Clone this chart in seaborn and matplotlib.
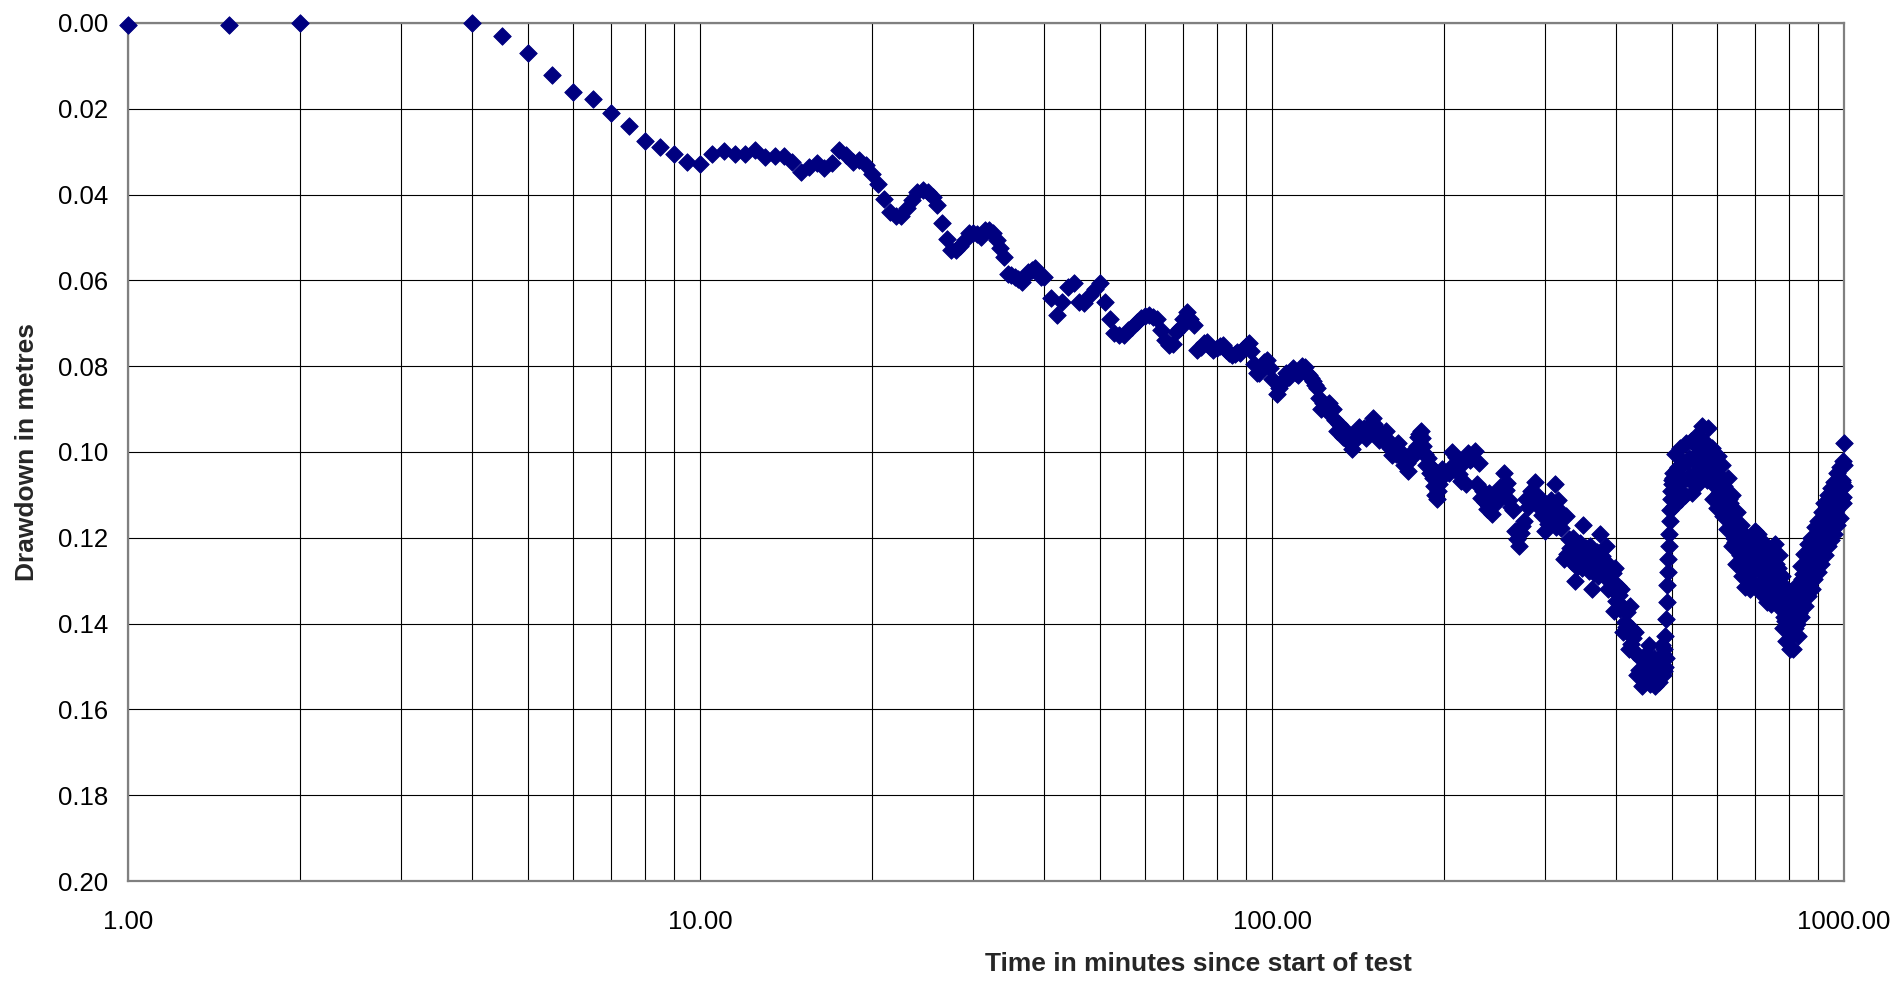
import numpy as np
import pandas as pd
import matplotlib
matplotlib.use("Agg")
import matplotlib.pyplot as plt
from matplotlib.ticker import LogLocator, FixedLocator, FuncFormatter, NullFormatter
import seaborn as sns

# time (minutes) and drawdown (metres)
t_early = [1, 1.5, 2, 4, 4.5, 5, 5.5, 6, 6.5, 7, 7.5, 8, 8.5, 9, 9.5, 10]
d_early = [0.0005, 0.0005, 0.0, 0.0, 0.0031, 0.0071, 0.0122, 0.016, 0.0177, 0.021,
           0.024, 0.0274, 0.0289, 0.0305, 0.0323, 0.0329]

# half-minute readings, 10.5 - 40 min
t_half = np.arange(10.5, 40.01, 0.5)
d_half = [0.0306, 0.0298, 0.0306, 0.0305, 0.0295, 0.0312, 0.0311, 0.0310, 0.0325, 0.0347,
          0.0336, 0.0327, 0.0339, 0.0327, 0.0296, 0.0308, 0.0323, 0.0319, 0.0331, 0.0352,
          0.0375, 0.0411, 0.0440, 0.0451, 0.0451, 0.0432, 0.0413, 0.0393, 0.0389, 0.0395,
          0.0405, 0.0424, 0.0467, 0.0504, 0.0529, 0.0529, 0.0520, 0.0505, 0.0490, 0.0490,
          0.0492, 0.0498, 0.0482, 0.0482, 0.0490, 0.0505, 0.0525, 0.0545, 0.0584, 0.0588,
          0.0591, 0.0597, 0.0603, 0.0590, 0.0580, 0.0575, 0.0572, 0.0580, 0.0591, 0.0591]

# one-minute readings, 41 - 100 min
t_min = np.arange(41, 101, 1)
d_min = [0.0640, 0.0680, 0.0650, 0.0615, 0.0605, 0.0650, 0.0653, 0.0635, 0.0620, 0.0607,
         0.0650, 0.0690, 0.0723, 0.0727, 0.0727, 0.0715, 0.0708, 0.0698, 0.0688, 0.0684,
         0.0680, 0.0685, 0.0690, 0.0715, 0.0739, 0.0750, 0.0748, 0.0720, 0.0710, 0.0690,
         0.0673, 0.0690, 0.0704, 0.0762, 0.0755, 0.0745, 0.0743, 0.0755, 0.0762, 0.0758,
         0.0752, 0.0751, 0.0762, 0.0770, 0.0774, 0.0772, 0.0768, 0.0770, 0.0760, 0.0752,
         0.0747, 0.0765, 0.0795, 0.0815, 0.0817, 0.0805, 0.0790, 0.0786, 0.0805, 0.0830]

# 102 - 200 min, even minutes
t_two = np.arange(102, 201, 2)
d_two = [0.0865, 0.0840, 0.0815, 0.0812, 0.0815, 0.0808, 0.0802, 0.0820, 0.0835, 0.0850,
         0.0900, 0.0898, 0.0885, 0.0900, 0.0950, 0.0955, 0.0948, 0.0975, 0.0992, 0.0965,
         0.0942, 0.0955, 0.0968, 0.0940, 0.0920, 0.0945, 0.0972, 0.0962, 0.0952, 0.0980,
         0.1008, 0.0995, 0.0980, 0.1005, 0.1030, 0.1025, 0.1015, 0.1010, 0.1005, 0.0965,
         0.0950, 0.0985, 0.1030, 0.1030, 0.1035, 0.1080, 0.1110, 0.1075, 0.1040, 0.1050]

# 103 - 199 min, odd minutes
t_two_odd = np.arange(103, 200, 2)
d_two_odd = [0.0850, 0.0830, 0.0825, 0.0805, 0.0820, 0.0800, 0.0815, 0.0828, 0.0845, 0.0875,
             0.0885, 0.0905, 0.0898, 0.0925, 0.0935, 0.0965, 0.0960, 0.0980, 0.0975, 0.0958,
             0.0950, 0.0945, 0.0955, 0.0935, 0.0935, 0.0958, 0.0955, 0.0975, 0.0970, 0.0990,
             0.0990, 0.1005, 0.0995, 0.1015, 0.1018, 0.1045, 0.1005, 0.0995, 0.0985, 0.0958,
             0.0968, 0.1005, 0.1015, 0.1050, 0.1060, 0.1100, 0.1090, 0.1060, 0.1055]

# 204 - 480 min, every 4 min
t_four_a = np.arange(204, 481, 4)
d_four_a = [0.1050, 0.1028, 0.1052, 0.1025, 0.1002, 0.1013, 0.1075, 0.1108, 0.1117, 0.1095,
            0.1102, 0.1098, 0.1100, 0.1088, 0.1112, 0.1135, 0.1202, 0.1188, 0.1160, 0.1128,
            0.1092, 0.1071, 0.1102, 0.1148, 0.1185, 0.1167, 0.1113, 0.1075, 0.1111, 0.1177,
            0.1250, 0.1237, 0.1223, 0.1200, 0.1233, 0.1247, 0.1270, 0.1257, 0.1243, 0.1220,
            0.1248, 0.1267, 0.1290, 0.1277, 0.1258, 0.1220, 0.1263, 0.1317, 0.1370, 0.1347,
            0.1333, 0.1320, 0.1363, 0.1407, 0.1460, 0.1447, 0.1433, 0.1420, 0.1473, 0.1517,
            0.1545, 0.1527, 0.1493, 0.1450, 0.1483, 0.1527, 0.1545, 0.1517, 0.1488, 0.1450]

# 206 - 478 min, in between
t_four_a_mid = np.arange(206, 479, 4)
d_four_a_mid = [0.1000, 0.1012, 0.1068, 0.1075, 0.1018, 0.0997, 0.1025, 0.1092, 0.1133, 0.1145,
                0.1118, 0.1082, 0.1050, 0.1072, 0.1128, 0.1185, 0.1218, 0.1172, 0.1110, 0.1112,
                0.1108, 0.1121, 0.1118, 0.1132, 0.1135, 0.1133, 0.1147, 0.1175, 0.1145, 0.1143,
                0.1150, 0.1203, 0.1257, 0.1300, 0.1267, 0.1213, 0.1170, 0.1223, 0.1277, 0.1320,
                0.1282, 0.1233, 0.1190, 0.1243, 0.1292, 0.1320, 0.1297, 0.1283, 0.1270, 0.1313,
                0.1367, 0.1420, 0.1397, 0.1373, 0.1360, 0.1413, 0.1467, 0.1520, 0.1507, 0.1483,
                0.1500, 0.1470, 0.1520, 0.1540, 0.1510, 0.1480, 0.1500, 0.1535, 0.1520]

# recovery, 481 - 503 min
t_rise = np.arange(481, 504, 1)
d_rise = [0.148, 0.152, 0.147, 0.151, 0.146, 0.150, 0.143, 0.148, 0.139, 0.135,
          0.131, 0.128, 0.125, 0.122, 0.119, 0.116, 0.1135, 0.111, 0.109, 0.1075,
          0.1065, 0.106, 0.105]

# 504 - 996 min, every 4 min
t_four_b = np.arange(504, 997, 4)
d_four_b = [0.1125, 0.1080, 0.1035, 0.0990, 0.1025, 0.1065, 0.1100, 0.1060, 0.1015, 0.0975,
            0.1015, 0.1050, 0.1080, 0.1030, 0.0985, 0.0940, 0.0975, 0.1020, 0.1065, 0.1045,
            0.1020, 0.0990, 0.1035, 0.1080, 0.1130, 0.1095, 0.1060, 0.1030, 0.1080, 0.1130,
            0.1180, 0.1150, 0.1120, 0.1100, 0.1160, 0.1210, 0.1260, 0.1230, 0.1200, 0.1170,
            0.1220, 0.1270, 0.1315, 0.1280, 0.1245, 0.1200, 0.1235, 0.1270, 0.1305, 0.1260,
            0.1225, 0.1190, 0.1235, 0.1280, 0.1330, 0.1300, 0.1265, 0.1230, 0.1275, 0.1320,
            0.1355, 0.1310, 0.1260, 0.1215, 0.1260, 0.1310, 0.1360, 0.1330, 0.1310, 0.1290,
            0.1345, 0.1395, 0.1440, 0.1400, 0.1370, 0.1340, 0.1385, 0.1425, 0.1460, 0.1410,
            0.1360, 0.1310, 0.1335, 0.1360, 0.1385, 0.1335, 0.1285, 0.1238, 0.1270, 0.1300,
            0.1335, 0.1290, 0.1245, 0.1200, 0.1230, 0.1260, 0.1295, 0.1250, 0.1205, 0.1160,
            0.1195, 0.1230, 0.1260, 0.1210, 0.1165, 0.1120, 0.1155, 0.1190, 0.1220, 0.1175,
            0.1130, 0.1085, 0.1120, 0.1155, 0.1190, 0.1140, 0.1095, 0.1050, 0.1085, 0.1120,
            0.1155, 0.1110, 0.1065, 0.1020]

# 506 - 994 min, in between
t_four_b_mid = np.arange(506, 995, 4)
d_four_b_mid = [0.1005, 0.1040, 0.1075, 0.1110, 0.1065, 0.1025, 0.0980, 0.1020, 0.1055, 0.1095,
                0.1055, 0.1010, 0.0960, 0.0990, 0.1025, 0.1060, 0.1015, 0.0980, 0.0945, 0.1005,
                0.1060, 0.1110, 0.1075, 0.1040, 0.1010, 0.1055, 0.1100, 0.1150, 0.1120, 0.1090,
                0.1060, 0.1110, 0.1160, 0.1220, 0.1200, 0.1170, 0.1140, 0.1190, 0.1240, 0.1290,
                0.1260, 0.1230, 0.1195, 0.1240, 0.1285, 0.1320, 0.1275, 0.1230, 0.1185, 0.1220,
                0.1265, 0.1310, 0.1275, 0.1240, 0.1210, 0.1260, 0.1305, 0.1350, 0.1315, 0.1280,
                0.1235, 0.1270, 0.1300, 0.1335, 0.1300, 0.1270, 0.1240, 0.1290, 0.1350, 0.1410,
                0.1385, 0.1355, 0.1320, 0.1360, 0.1410, 0.1460, 0.1425, 0.1385, 0.1340, 0.1370,
                0.1400, 0.1430, 0.1375, 0.1320, 0.1265, 0.1295, 0.1325, 0.1358, 0.1310, 0.1260,
                0.1215, 0.1250, 0.1285, 0.1320, 0.1270, 0.1220, 0.1175, 0.1210, 0.1245, 0.1280,
                0.1235, 0.1190, 0.1140, 0.1170, 0.1205, 0.1240, 0.1195, 0.1150, 0.1100, 0.1135,
                0.1170, 0.1205, 0.1160, 0.1115, 0.1070, 0.1100, 0.1135, 0.1170, 0.1125, 0.1080,
                0.1035, 0.1070, 0.1105]

t_tail = [997, 998, 999, 1000]
d_tail = [0.112, 0.108, 0.103, 0.098]

x_ticks = [1, 10, 100, 1000]
y_ticks = [0.00, 0.02, 0.04, 0.06, 0.08, 0.10, 0.12, 0.14, 0.16, 0.18, 0.20]

df = pd.DataFrame({
    "time": np.concatenate([t_early, t_half, t_min, t_two, t_two_odd, t_four_a, t_four_a_mid,
                            t_rise, t_four_b, t_four_b_mid, t_tail]),
    "drawdown": np.concatenate([d_early, d_half, d_min, d_two, d_two_odd, d_four_a, d_four_a_mid,
                                d_rise, d_four_b, d_four_b_mid, d_tail]),
})

sns.set_style("white")
plt.rcParams["font.family"] = ["Liberation Sans", "DejaVu Sans"]

fig = plt.figure(figsize=(18.94, 9.81), dpi=100)
ax = fig.add_axes([0.0676, 0.1019, 0.9060, 0.8747])

sns.scatterplot(data=df, x="time", y="drawdown", marker="D", color="#000080",
                edgecolor="#000080", linewidth=0.6, s=80, ax=ax, zorder=3,
                legend=False, clip_on=False)

ax.set_xscale("log")
ax.set_xlim(1, 1000)
ax.set_ylim(0.20, 0.0)

ax.xaxis.set_major_locator(FixedLocator(x_ticks))
ax.xaxis.set_minor_locator(LogLocator(base=10, subs=range(2, 10)))
ax.xaxis.set_major_formatter(FuncFormatter(lambda v, p: f"{v:.2f}"))
ax.xaxis.set_minor_formatter(NullFormatter())
ax.yaxis.set_major_locator(FixedLocator(y_ticks))
ax.yaxis.set_major_formatter(FuncFormatter(lambda v, p: f"{v:.2f}"))

ax.set_axisbelow(True)
ax.grid(which="both", axis="x", color="black", linewidth=0.8)
ax.grid(which="major", axis="y", color="black", linewidth=0.8)

for side in ["left", "bottom", "top", "right"]:
    ax.spines[side].set_color("#808080")
    ax.spines[side].set_linewidth(1.6)
    ax.spines[side].set_visible(True)

ax.tick_params(axis="both", which="major", direction="out", length=6.5, width=0.8,
               color="black", labelsize=18.5, labelcolor="black")
ax.tick_params(axis="x", which="major", pad=14)
ax.tick_params(axis="y", which="major", pad=8)
ax.tick_params(which="minor", length=0)

ax.set_xlabel("Time in minutes since start of test", fontsize=19, fontweight="bold")
ax.set_ylabel("Drawdown in metres", fontsize=19, fontweight="bold")
ax.xaxis.set_label_coords(0.624, -0.083)
ax.yaxis.set_label_coords(-0.052, 0.5)

fig.savefig("out.png", dpi=100, facecolor="white")
plt.close(fig)
